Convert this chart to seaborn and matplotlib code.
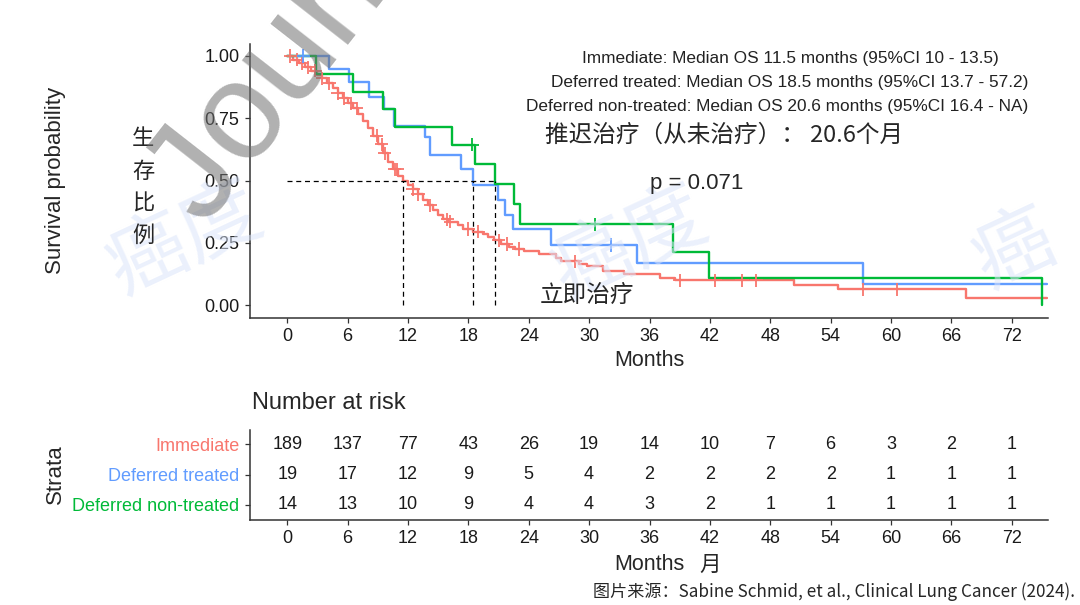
import numpy as np
import pandas as pd
import matplotlib
matplotlib.use("Agg")
import matplotlib.pyplot as plt
import seaborn as sns

# Grupos e cores (padrão ggplot)
grupos = ["Immediate", "Deferred treated", "Deferred non-treated"]
cores = ["#F8766D", "#619CFF", "#00BA38"]

# Curvas de Kaplan-Meier (tempo em meses, sobrevida)
red_time = [0, 0.6, 1.2, 1.8, 2.4, 3.0, 3.5, 4.0, 4.5, 5.0, 5.5, 6.0, 6.5, 7.0,
            7.5, 8.0, 8.5, 9.0, 9.5, 10.0, 10.5, 11.0, 11.5, 12.0, 12.5, 13.0,
            13.5, 14.0, 14.5, 15.0, 15.5, 16.0, 17.0, 17.5, 18.5, 19.5, 20.0,
            20.5, 21.2, 22.0, 22.6, 23.5, 25.0, 26.7, 27.2, 29.0, 29.8, 31.4,
            33.5, 37.0, 38.5, 50.4, 54.7, 67.5, 75.5]
red_surv = [1.0, 0.985, 0.97, 0.955, 0.94, 0.925, 0.91, 0.89, 0.87, 0.85, 0.83,
            0.81, 0.79, 0.765, 0.74, 0.71, 0.68, 0.645, 0.61, 0.575, 0.545,
            0.52, 0.50, 0.48, 0.465, 0.445, 0.42, 0.40, 0.38, 0.36, 0.345,
            0.335, 0.32, 0.305, 0.295, 0.285, 0.275, 0.26, 0.245, 0.235, 0.225,
            0.215, 0.205, 0.19, 0.175, 0.165, 0.155, 0.135, 0.125, 0.11, 0.10,
            0.08, 0.063, 0.03, 0.03]
blue_time = [0, 4.2, 6.1, 8.1, 9.6, 10.6, 13.7, 14.2, 17.3, 18.5, 20.9, 21.6,
             22.4, 26.2, 34.8, 57.2, 75.5]
blue_surv = [1.0, 0.947, 0.894, 0.837, 0.789, 0.72, 0.676, 0.602, 0.548, 0.482,
             0.422, 0.361, 0.304, 0.241, 0.167, 0.084, 0.084]
green_time = [0, 2.9, 6.5, 9.5, 10.7, 16.4, 18.7, 20.6, 22.5, 23.1, 38.3, 41.9, 75.0]
green_surv = [1.0, 0.929, 0.857, 0.786, 0.714, 0.643, 0.566, 0.486, 0.406,
              0.325, 0.214, 0.11, 0.0]

# Censuras (meses)
red_cens = [0.3, 1.0, 1.5, 2.1, 2.8, 3.5, 4.2, 5.0, 5.6, 6.3, 6.9, 8.9, 9.4,
            9.7, 10.7, 10.9, 12.5, 13.0, 14.2, 15.9, 16.2, 18.0, 19.0, 21.0,
            21.8, 23.0, 28.6, 39.0, 42.5, 45.2, 46.6, 57.2, 60.6]
blue_cens = [1.6, 32.2]
green_cens = [18.4, 30.6]

medianas = [11.5, 18.5, 20.6]

# Tabela de risco
risk_times = list(range(0, 73, 6))
risk_imm = [189, 137, 77, 43, 26, 19, 14, 10, 7, 6, 3, 2, 1]
risk_dt = [19, 17, 12, 9, 5, 4, 2, 2, 2, 2, 1, 1, 1]
risk_dnt = [14, 13, 10, 9, 4, 4, 3, 2, 1, 1, 1, 1, 1]

legenda = ["Immediate: Median OS 11.5 months (95%CI 10 - 13.5)",
           "Deferred treated: Median OS 18.5 months (95%CI 13.7 - 57.2)",
           "Deferred non-treated: Median OS 20.6 months (95%CI 16.4 - NA)"]

curvas = [(red_time, red_surv, red_cens), (blue_time, blue_surv, blue_cens),
          (green_time, green_surv, green_cens)]

linhas = []
censuras = []
for g, (t, s, c) in zip(grupos, curvas):
    linhas.append(pd.DataFrame({"tempo": t, "surv": s, "grupo": g}))
    idx = np.searchsorted(t, c, side="right") - 1
    censuras.append(pd.DataFrame({"tempo": c, "surv": np.array(s)[idx], "grupo": g}))
df = pd.concat(linhas, ignore_index=True)
df_c = pd.concat(censuras, ignore_index=True)

sns.set_theme(style="ticks")
plt.rcParams["font.family"] = ["Liberation Sans", "Noto Sans CJK SC"]
CJK = ["Noto Sans CJK SC", "DejaVu Sans"]
paleta = dict(zip(grupos, cores))

W, H = 1080, 605
fig = plt.figure(figsize=(W / 100, H / 100), dpi=100)


def caixa(x0, y0, x1, y1):
    return [x0 / W, 1 - y1 / H, (x1 - x0) / W, (y1 - y0) / H]


def ft(x, y, s, **kw):
    fig.text(x / W, 1 - y / H, s, **kw)


ax = fig.add_axes(caixa(250, 44, 1048, 318))
ax_t = fig.add_axes(caixa(250, 430, 1048, 520))

# Curvas
sns.lineplot(data=df, x="tempo", y="surv", hue="grupo", hue_order=grupos,
             palette=paleta, drawstyle="steps-post", estimator=None, sort=False,
             linewidth=1.7, legend=False, ax=ax)
sns.scatterplot(data=df_c, x="tempo", y="surv", hue="grupo", hue_order=grupos,
                palette=paleta, marker="+", s=90, linewidth=1.3, legend=False,
                ax=ax, zorder=3)

# Medianas
ax.hlines(0.5, 0, max(medianas), colors="black", linestyles=(0, (4, 3)), lw=0.9)
ax.vlines(medianas, 0, 0.5, colors="black", linestyles=(0, (4, 3)), lw=0.9)

ax.set_xlim(-3.7, 75.6)
ax.set_ylim(-0.052, 1.048)
ax.set_xticks(risk_times)
ax.set_yticks([0, 0.25, 0.5, 0.75, 1.0])
ax.set_yticklabels(["0.00", "0.25", "0.50", "0.75", "1.00"])
ax.set_xlabel("")
ax.set_ylabel("")

# Tabela
for i, valores in enumerate([risk_imm, risk_dt, risk_dnt]):
    for t, n in zip(risk_times, valores):
        ax_t.text(t, i, str(n), ha="center", va="center", fontsize=13, color="#1a1a1a")
ax_t.set_xlim(-3.7, 75.6)
ax_t.set_ylim(2.5, -0.47)
ax_t.set_xticks(risk_times)
ax_t.set_yticks([0, 1, 2])
ax_t.set_yticklabels(grupos)

for a in (ax, ax_t):
    sns.despine(ax=a)
    for sp in ("left", "bottom"):
        a.spines[sp].set_color("#333333")
        a.spines[sp].set_linewidth(1.1)
    a.tick_params(length=3.5, width=0.9, color="#333333", labelsize=13,
                  labelcolor="#1a1a1a", pad=4)
    a.grid(False)

for lab, c in zip(ax_t.get_yticklabels(), cores):
    lab.set_color(c)

# Textos
ft(55, 180, "Survival probability", rotation=90, ha="center", va="center", fontsize=16)
ft(55, 474, "Strata", rotation=90, ha="center", va="center", fontsize=16)
ft(649, 360, "Months", ha="center", va="center", fontsize=15.5)
ft(649, 565, "Months", ha="center", va="center", fontsize=15.5)
ft(710, 565, "月", ha="center", va="center", fontsize=15.5, family=CJK)
ft(252, 403, "Number at risk", ha="left", va="center", fontsize=17)
for txt, x, y in zip(legenda, [790, 790, 777], [58, 82, 106]):
    ft(x, y, txt, ha="center", va="center", fontsize=12.4, color="#222222")
ft(697, 183, "p = 0.071", ha="center", va="center", fontsize=16)
ft(545, 135, "推迟治疗（从未治疗）： 20.6个月", ha="left", va="center",
   fontsize=17, family=CJK)
ft(540, 295, "立即治疗", ha="left", va="center", fontsize=17, family=CJK)
for ch, y in zip("生存比例", [138, 171, 203, 235]):
    ft(143, y, ch, ha="center", va="center", fontsize=16, family=CJK)
ft(1075, 592, "图片来源：Sabine Schmid, et al., Clinical Lung Cancer (2024).",
   ha="right", va="center", fontsize=12.3, family=CJK)

# Marcas d'água
ft(205, 228, "Journal Pre-proof", rotation=52, rotation_mode="anchor",
   ha="left", va="baseline", fontsize=100, color="#707070", alpha=0.55)
for x, y, s in [(185, 240, "癌度"), (630, 245, "癌度"), (1015, 250, "癌")]:
    ft(x, y, s, rotation=25, ha="center", va="center", fontsize=58,
       family=CJK, color="#dbe5fa", alpha=0.55, zorder=0)

fig.savefig("out.png", dpi=100)
